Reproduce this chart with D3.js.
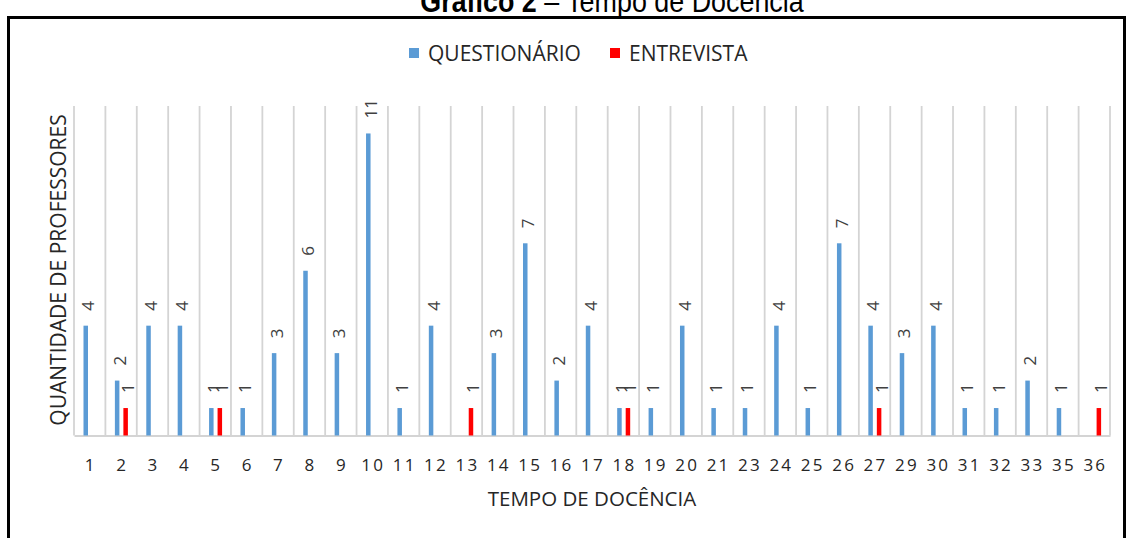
<!DOCTYPE html>
<html lang="pt">
<head>
<meta charset="utf-8">
<script src="https://cdn.jsdelivr.net/npm/d3@7"></script>
<style>
  html, body { margin: 0; padding: 0; background: #fff; }
  svg { display: block; }
  text { font-family: "Open Sans", "Noto Sans", sans-serif; fill: #262626; }
</style>
</head>
<body>
<svg id="chart" width="1128" height="538"></svg>
<script>
// Anos de docência (categorias do eixo X)
const categories = ["1","2","3","4","5","6","7","8","9","10","11","12","13","14","15","16","17",
  "18","19","20","21","23","24","25","26","27","29","30","31","32","33","35","36"];
// Número de professores por tempo de docência
const questionario = [4,2,4,4,1,1,3,6,3,11,1,4,0,3,7,2,4,1,1,4,1,1,4,1,7,4,3,4,1,1,2,1,0];
const entrevista   = [0,1,0,0,1,0,0,0,0,0,0,0,1,0,0,0,0,1,0,0,0,0,0,0,0,1,0,0,0,0,0,0,1];
const seriesNames  = ["QUESTIONÁRIO", "ENTREVISTA"];
const seriesColors = ["#5B9BD5", "#FF0000"];
const yMax = 12;

const svg = d3.select("#chart");

// Moldura
svg.append("rect")
  .attr("x", 8.5).attr("y", 17.5)
  .attr("width", 1116).attr("height", 540)
  .attr("fill", "none").attr("stroke", "#000").attr("stroke-width", 3);

// Título (condensado, logo acima da moldura)
const title = svg.append("g")
  .attr("transform", "translate(612,12) scale(0.84,1)")
  .append("text")
  .attr("text-anchor", "middle")
  .style("font-family", "'Liberation Sans', Arial, sans-serif")
  .style("font-size", "32px")
  .style("fill", "#000");
title.append("tspan").style("font-weight", "bold").text("Gráfico 2");
title.append("tspan").text(" – Tempo de Docência");

// Escalas
const plot = { left: 74, right: 1110, top: 106, bottom: 435.5 };
const x = d3.scaleBand().domain(categories).range([plot.left, plot.right]).padding(0);
const bw = x.bandwidth();
const xs = d3.scaleBand().domain(seriesNames)
  .range([bw / 2 - 8.2, bw / 2 + 8.8])
  .paddingInner(0.47).paddingOuter(0.235);
const y = d3.scaleLinear().domain([0, yMax]).range([plot.bottom, plot.top]);

// Linhas de grade verticais (limites das categorias)
const gridX = categories.map(c => x(c)).concat([plot.right]);
svg.append("g").selectAll("line").data(gridX).join("line")
  .attr("x1", d => d).attr("x2", d => d)
  .attr("y1", plot.top).attr("y2", plot.bottom)
  .attr("stroke", "#d4d4d4").attr("stroke-width", 1.8);

// Eixo X
const xAxis = svg.append("g")
  .attr("transform", `translate(0,${plot.bottom})`)
  .call(d3.axisBottom(x).tickSize(0).tickPadding(0));
xAxis.select(".domain").attr("stroke", "#d4d4d4").attr("stroke-width", 1.8);
xAxis.selectAll(".tick text")
  .attr("y", 35)
  .attr("dy", 0)
  .attr("dx", 1)
  .style("font-family", "'Open Sans', sans-serif")
  .style("font-size", "17px")
  .style("letter-spacing", "2.2px")
  .style("fill", "#262626");

// Barras
const rows = categories.map((c, i) => ({ cat: c, values: [questionario[i], entrevista[i]] }));
const groups = svg.append("g").selectAll("g").data(rows).join("g")
  .attr("transform", d => `translate(${x(d.cat)},0)`);

groups.selectAll("rect")
  .data(d => d.values.map((v, k) => ({ v, k })).filter(e => e.v > 0))
  .join("rect")
  .attr("x", e => xs(seriesNames[e.k]))
  .attr("width", xs.bandwidth())
  .attr("y", e => y(e.v))
  .attr("height", e => y(0) - y(e.v))
  .attr("fill", e => seriesColors[e.k]);

// Rótulos de dados (verticais)
groups.selectAll("text.lbl")
  .data(d => d.values.map((v, k) => ({ v, k })).filter(e => e.v > 0))
  .join("text")
  .attr("class", "lbl")
  .attr("transform", e => `translate(${xs(seriesNames[e.k]) + xs.bandwidth() / 2 + 2.5},${y(e.v) - 15}) rotate(-90)`)
  .attr("dy", "0.35em")
  .style("font-size", "17px")
  .style("fill", "#404040")
  .text(e => e.v);

// Título do eixo Y
svg.append("text")
  .attr("transform", `translate(66,270) rotate(-90)`)
  .attr("text-anchor", "middle")
  .style("font-size", "21px")
  .style("fill", "#262626")
  .text("QUANTIDADE DE PROFESSORES");

// Título do eixo X
svg.append("text")
  .attr("x", 592).attr("y", 506)
  .attr("text-anchor", "middle")
  .style("font-size", "20.5px")
  .style("fill", "#262626")
  .text("TEMPO DE DOCÊNCIA");

// Legenda
const legendItems = [
  { name: seriesNames[0], color: seriesColors[0], x: 409 },
  { name: seriesNames[1], color: seriesColors[1], x: 610 }
];
const lg = svg.append("g").selectAll("g").data(legendItems).join("g")
  .attr("transform", d => `translate(${d.x},48)`);
lg.append("rect").attr("width", 10).attr("height", 10).attr("fill", d => d.color);
lg.append("text").attr("x", 19).attr("y", 12.5)
  .style("font-size", "21px")
  .style("fill", "#262626")
  .text(d => d.name);
</script>
</body>
</html>
